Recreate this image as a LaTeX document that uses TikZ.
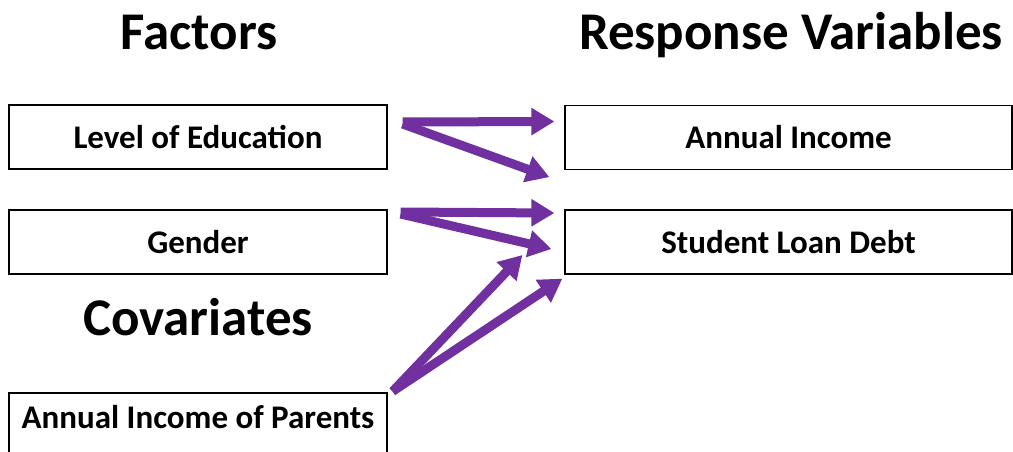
\documentclass[tikz,border=0pt]{standalone}
\usepackage{fontspec}
\setmainfont{Carlito}
\usepackage{tikz}
\usepackage{xcolor}
\usetikzlibrary{arrows.meta,positioning}

\definecolor{linkpurple}{RGB}{112,48,160}

\tikzset{
  varbox/.style={draw, line width=1.2pt, minimum height=64pt, inner sep=0pt,
    font=\fontsize{33}{36}\selectfont\bfseries},
  heading/.style={anchor=base, font=\fontsize{53}{60}\selectfont\bfseries},
  link/.style={draw=linkpurple, line width=9pt,
    -{Triangle[length=23pt,width=26pt]}}
}

\begin{document}
\begin{tikzpicture}[x=1pt,y=-1pt]
            % Fix the page to the reference size
            \useasboundingbox (0,0) rectangle (1013,452);
            \clip (0,0) rectangle (1013,452);

            % Headings
            \node[heading] (factors) at (199,50) {Factors};
            \node[heading] (responses) at (791,50) {Response Variables};
            \node[heading] (covariates) at (198,335) {Covariates};

            % Factor and covariate boxes on the left
            \node[varbox, minimum width=378pt] (edu) at (198,137) {Level of Education};
            \node[varbox, minimum width=378pt] (gender) at (198,242) {Gender};
            \node[varbox, minimum width=378pt, text depth=16pt] (parents) at (198,425) {Annual Income of Parents};

            % Response boxes on the right
            \node[varbox, minimum width=447pt] (income) at (788.5,137.5) {Annual Income};
            \node[varbox, minimum width=447pt] (debt) at (788.5,242) {Student Loan Debt};

            % Arrows from the factors
            \draw[link] ([shift={(15,-15)}]edu.east) -- ([shift={(-10,-16)}]income.west);
            \draw[link] ([shift={(15,-13)}]edu.east) -- ([shift={(-15,7)}]income.south west);
            \draw[link] ([shift={(13,-30)}]gender.east) -- ([shift={(-10,-29)}]debt.west);
            \draw[link] ([shift={(13,-28)}]gender.east) -- ([shift={(-13,7)}]debt.west);

            % Arrows from the covariate
            \draw[link] ([shift={(5,-1)}]parents.north east) -- ([shift={(-42,13)}]debt.west);
            \draw[link] ([shift={(5,-1)}]parents.north east) -- ([shift={(-2,4)}]debt.south west);
        \end{tikzpicture}
\end{document}
